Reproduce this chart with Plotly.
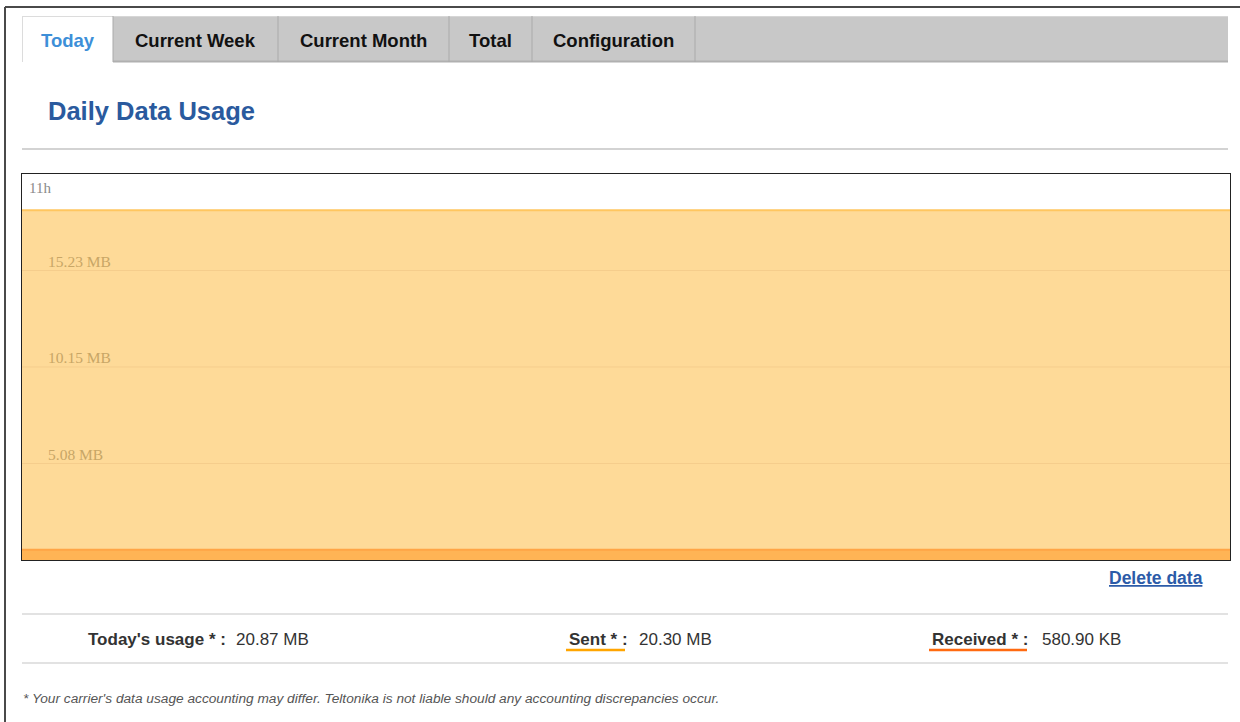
import plotly.graph_objects as go

W, H = 1240, 722

# ---- data ----
hours = [11.0, 12.0]                 # time span shown (hours)
sent_mb = [18.4, 18.4]               # sent area level (MB)
received_mb = [0.54, 0.54]           # received area level (MB)
y_max_mb = 20.30
tick_vals = [5.075, 10.15, 15.225]
tick_text = ["5.08 MB", "10.15 MB", "15.23 MB"]
x_tick_label = "11h"

tabs = ["Today", "Current Week", "Current Month", "Total", "Configuration"]
tab_edges = [22, 113, 278, 449, 532, 695]

summary_labels = ["Today's usage * :", "Sent * :", "Received * :"]
summary_values = ["20.87 MB", "20.30 MB", "580.90 KB"]

FONT = "Liberation Sans, Arial, sans-serif"
SERIF = "Liberation Serif, Times New Roman, serif"


def px(x):
    return x / W


def py(y):
    return 1 - y / H


# plot area in pixels
PL, PR, PT, PB = 22, 1230, 174, 560

fig = go.Figure()
fig.add_trace(go.Scatter(
    x=hours, y=sent_mb, mode="lines", fill="tozeroy",
    line=dict(color="rgb(255,198,95)", width=2),
    fillcolor="rgb(254,218,152)", hoverinfo="skip", showlegend=False))
fig.add_trace(go.Scatter(
    x=hours, y=received_mb, mode="lines", fill="tozeroy",
    line=dict(color="rgb(255,165,70)", width=2),
    fillcolor="rgb(255,180,85)", hoverinfo="skip", showlegend=False))

shapes = []
annotations = []

# page frame
shapes.append(dict(type="line", xref="paper", yref="paper", x0=px(5), x1=px(5),
                   y0=0, y1=py(7), line=dict(color="#4a4a4a", width=2)))
shapes.append(dict(type="line", xref="paper", yref="paper", x0=px(5), x1=1,
                   y0=py(7), y1=py(7), line=dict(color="#4a4a4a", width=2)))

# tab bar
shapes.append(dict(type="rect", xref="paper", yref="paper", x0=px(22), x1=px(1228),
                   y0=py(62), y1=py(16), fillcolor="#c8c8c8",
                   line=dict(width=0), layer="below"))
shapes.append(dict(type="line", xref="paper", yref="paper", x0=px(113), x1=px(1228),
                   y0=py(61.5), y1=py(61.5), line=dict(color="#b0b0b0", width=2)))
shapes.append(dict(type="line", xref="paper", yref="paper", x0=px(22), x1=px(1228),
                   y0=py(16.5), y1=py(16.5), line=dict(color="#d6d6d6", width=1)))
shapes.append(dict(type="rect", xref="paper", yref="paper", x0=px(22), x1=px(113),
                   y0=py(63), y1=py(16), fillcolor="white",
                   line=dict(width=0), layer="below"))
shapes.append(dict(type="line", xref="paper", yref="paper", x0=px(22.5), x1=px(22.5),
                   y0=py(62), y1=py(16), line=dict(color="#dcdcdc", width=1)))
shapes.append(dict(type="line", xref="paper", yref="paper", x0=px(22), x1=px(113),
                   y0=py(16.5), y1=py(16.5), line=dict(color="#dcdcdc", width=1)))
for e in tab_edges[1:]:
    shapes.append(dict(type="line", xref="paper", yref="paper", x0=px(e), x1=px(e),
                       y0=py(62), y1=py(16), line=dict(color="#aaaaaa", width=1)))
for i, t in enumerate(tabs):
    cx = (tab_edges[i] + tab_edges[i + 1]) / 2
    annotations.append(dict(xref="paper", yref="paper", x=px(cx), y=py(40),
                            text="<b>%s</b>" % t, showarrow=False,
                            xanchor="center", yanchor="middle",
                            font=dict(family=FONT, size=18.5,
                                      color="#3d8fd8" if i == 0 else "#111111")))

# title + rule
annotations.append(dict(xref="paper", yref="paper", x=px(46), y=py(111),
                        text="<b>Daily Data Usage</b>", showarrow=False,
                        xanchor="left", yanchor="middle",
                        font=dict(family=FONT, size=25.5, color="#2a5a9e")))
shapes.append(dict(type="line", xref="paper", yref="paper", x0=px(22), x1=px(1228),
                   y0=py(149), y1=py(149), line=dict(color="#c4c4c4", width=1.5)))

# grid lines through the y axis scale (drawn above fill)
for v, t in zip(tick_vals, tick_text):
    shapes.append(dict(type="line", xref="x domain", yref="y", x0=0, x1=1,
                       y0=v, y1=v, line=dict(color="rgb(245,205,140)", width=1),
                       layer="above"))
    annotations.append(dict(xref="x domain", yref="y", x=0, y=v, xshift=24, yshift=-1,
                            text=t, showarrow=False, xanchor="left", yanchor="bottom",
                            font=dict(family=SERIF, size=15.5, color="rgb(200,166,102)")))

# time label
annotations.append(dict(xref="x", yref="y domain", x=hours[0], y=1, xshift=5, yshift=-4,
                        text=x_tick_label, showarrow=False, xanchor="left", yanchor="top",
                        font=dict(family=SERIF, size=15, color="#8a8a8a")))

# delete data link
annotations.append(dict(xref="paper", yref="paper", x=px(1156), y=py(578),
                        text="<b><u>Delete data</u></b>", showarrow=False,
                        xanchor="center", yanchor="middle",
                        font=dict(family=FONT, size=17.5, color="#2c5ba8")))

# summary rows
for yy in (614, 663):
    shapes.append(dict(type="line", xref="paper", yref="paper", x0=px(22), x1=px(1228),
                       y0=py(yy), y1=py(yy), line=dict(color="#e2e2e2", width=2)))

label_x = [86, 567, 930]
value_x = [234, 637, 1040]
for lx, vx, lab, val in zip(label_x, value_x, summary_labels, summary_values):
    annotations.append(dict(xref="paper", yref="paper", x=px(lx), y=py(639),
                            text="<b>%s</b>" % lab, showarrow=False,
                            xanchor="left", yanchor="middle",
                            font=dict(family=FONT, size=17, color="#333333")))
    annotations.append(dict(xref="paper", yref="paper", x=px(vx), y=py(639),
                            text=val, showarrow=False,
                            xanchor="left", yanchor="middle",
                            font=dict(family=FONT, size=17, color="#333333")))
shapes.append(dict(type="line", xref="paper", yref="paper", x0=px(566), x1=px(625),
                   y0=py(650), y1=py(650), line=dict(color="#ffa500", width=2.5)))
shapes.append(dict(type="line", xref="paper", yref="paper", x0=px(929), x1=px(1027),
                   y0=py(650), y1=py(650), line=dict(color="#ff6a10", width=2.5)))

# footnote
annotations.append(dict(xref="paper", yref="paper", x=px(21), y=py(698),
                        text="<i>* Your carrier's data usage accounting may differ. "
                             "Teltonika is not liable should any accounting "
                             "discrepancies occur.</i>",
                        showarrow=False, xanchor="left", yanchor="middle",
                        font=dict(family=FONT, size=13.7, color="#555555")))

fig.update_layout(
    width=W, height=H, margin=dict(l=0, r=0, t=0, b=0),
    paper_bgcolor="white", plot_bgcolor="white",
    showlegend=False, shapes=shapes, annotations=annotations,
    xaxis=dict(domain=[px(PL), px(PR)], range=[hours[0], hours[-1]],
               showgrid=False, zeroline=False, showticklabels=False, ticks="",
               showline=True, mirror=True, linecolor="#222222", linewidth=1,
               fixedrange=True),
    yaxis=dict(domain=[py(PB), py(PT)], range=[0, y_max_mb],
               showgrid=False, zeroline=False, showticklabels=False, ticks="",
               showline=True, mirror=True, linecolor="#222222", linewidth=1,
               fixedrange=True),
)

fig.write_html("out.html", config={"displayModeBar": False},
               post_script="document.body.style.margin='0';document.body.style.overflow='hidden';")
